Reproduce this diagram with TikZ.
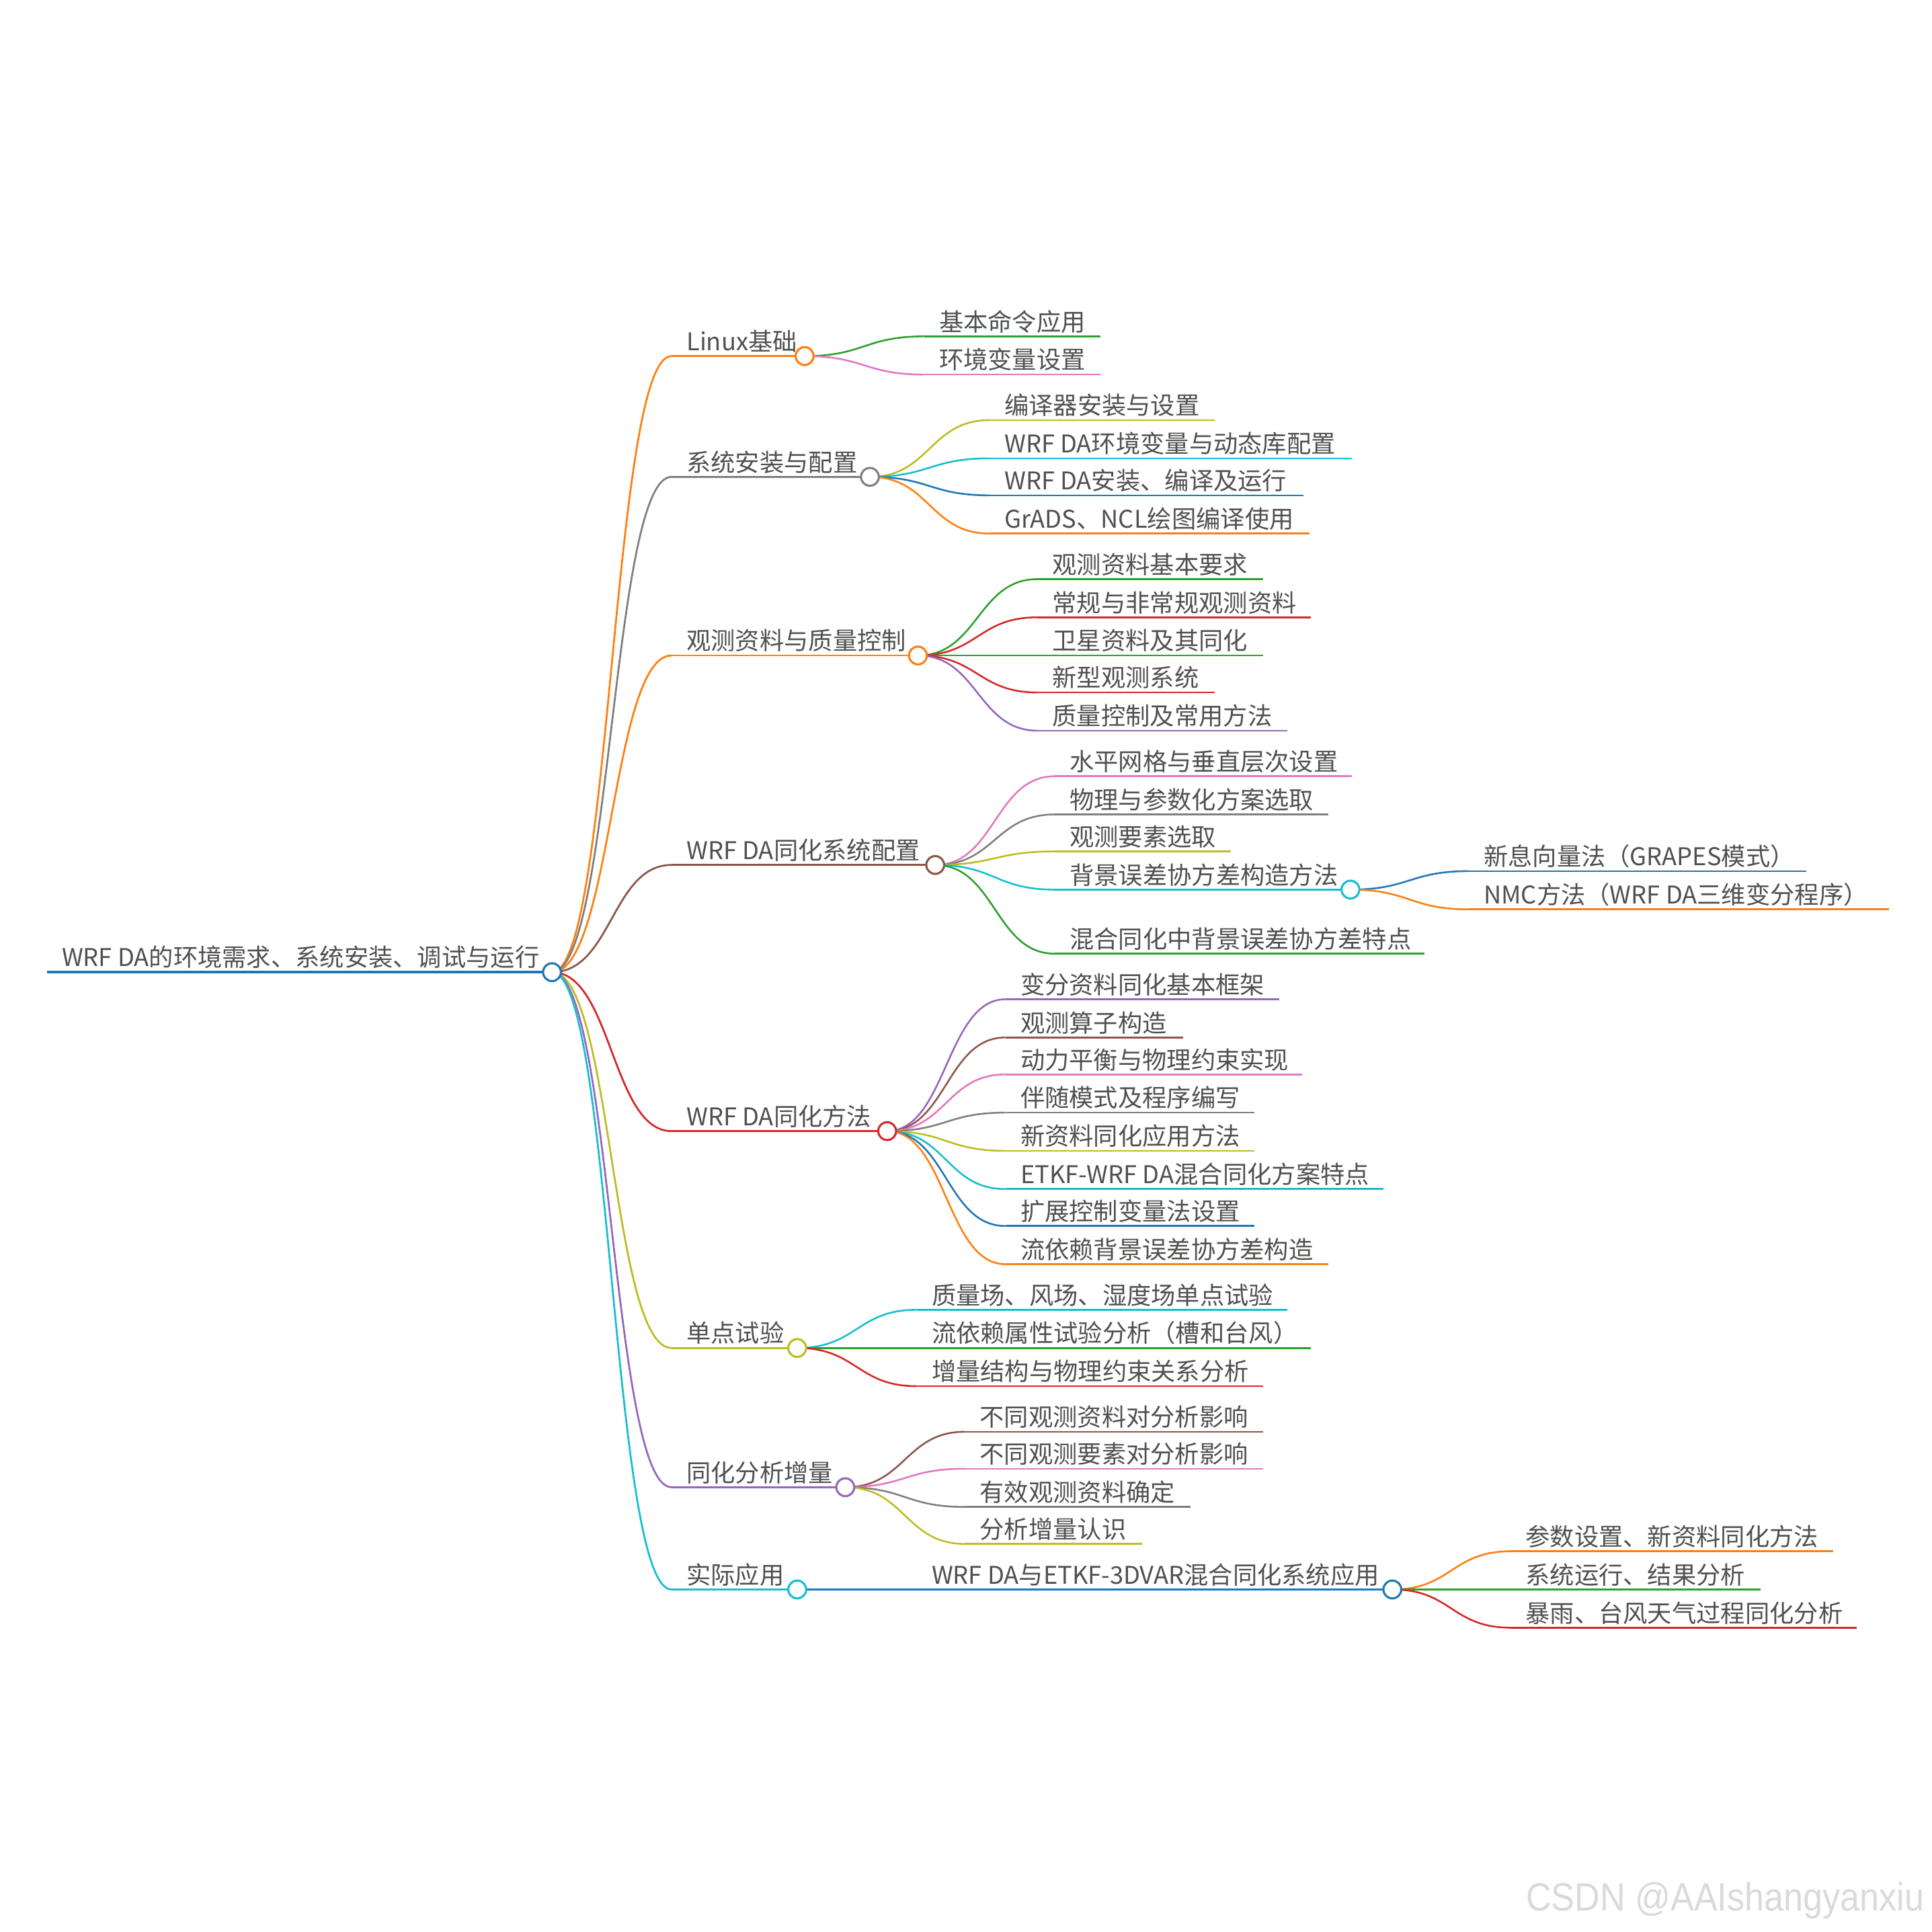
\documentclass[tikz,border=0pt]{standalone}
\usepackage{fontspec}
\setmainfont{Noto Sans CJK SC}
\newfontfamily\wmfont{Liberation Sans}[FakeStretch=0.89]
\usetikzlibrary{calc}
\definecolor{cblue}{HTML}{1F77B4}
\definecolor{corange}{HTML}{FF7F0E}
\definecolor{cgreen}{HTML}{2CA02C}
\definecolor{cred}{HTML}{D62728}
\definecolor{cpurple}{HTML}{9467BD}
\definecolor{cbrown}{HTML}{8C564B}
\definecolor{cpink}{HTML}{E377C2}
\definecolor{cgray}{HTML}{7F7F7F}
\definecolor{colive}{HTML}{BCBD22}
\definecolor{ccyan}{HTML}{17BECF}
\definecolor{txtgray}{HTML}{505050}
\definecolor{wmgray}{HTML}{DADADA}
\tikzset{
  txt/.style={font=\fontsize{19.8}{24}\selectfont, text=txtgray, inner sep=0pt, anchor=base west},
  dot/.style={circle, draw=#1, fill=white, line width=1.7pt, minimum size=14.5pt, inner sep=0pt},
  lwroot/.style={line width=2.3pt},
  lwa/.style={line width=1.5pt},
  lwb/.style={line width=1.4pt},
}
% name, text x, y, end x, colour, width style, text
\newcommand\mmbranch[7]{%
  \coordinate (#1-s) at ({#2-12},#3);
  \coordinate (#1) at (#4,#3);
  \draw[#5, #6] (#1-s) -- (#1);
  \node[txt] (#1-t) at (#2,{#3-4.5}) {#7};
}
% parent, child, colour, width style
\newcommand\mmlink[4]{%
  \draw[#3, #4] let \p1=(#1), \p2=(#2-s) in
    (\p1) .. controls ({0.5*\x1+0.5*\x2},\y1) and ({0.5*\x1+0.5*\x2},\y2) .. (\p2);
}
\begin{document}
\begin{tikzpicture}[x=1pt,y=-1pt]
\fill[white] (0,0) rectangle (1568,1568);
\useasboundingbox (0,0) rectangle (1568,1568);

% root
\mmbranch{root}{50}{789}{448}{cblue}{lwroot}{WRF DA的环境需求、系统安装、调试与运行}

% level 1
\mmbranch{A}{557}{289}{653}{corange}{lwa}{Linux基础}
\mmbranch{B}{557}{387}{706}{cgray}{lwa}{系统安装与配置}
\mmbranch{C}{557}{532}{745}{corange}{lwa}{观测资料与质量控制}
\mmbranch{D}{557}{702}{759}{cbrown}{lwa}{WRF DA同化系统配置}
\mmbranch{E}{557}{918}{720}{cred}{lwa}{WRF DA同化方法}
\mmbranch{F}{557}{1094}{647}{colive}{lwa}{单点试验}
\mmbranch{G}{557}{1207}{686}{cpurple}{lwa}{同化分析增量}
\mmbranch{H}{557}{1290}{647}{ccyan}{lwa}{实际应用}
\mmlink{root}{A}{corange}{lwa}
\mmlink{root}{B}{cgray}{lwa}
\mmlink{root}{C}{corange}{lwa}
\mmlink{root}{D}{cbrown}{lwa}
\mmlink{root}{E}{cred}{lwa}
\mmlink{root}{F}{colive}{lwa}
\mmlink{root}{G}{cpurple}{lwa}
\mmlink{root}{H}{ccyan}{lwa}

% Linux
\mmbranch{A1}{762}{273}{893}{cgreen}{lwb}{基本命令应用}
\mmbranch{A2}{762}{304}{893}{cpink}{lwb}{环境变量设置}
\mmlink{A}{A1}{cgreen}{lwb}
\mmlink{A}{A2}{cpink}{lwb}

% install
\mmbranch{B1}{815}{341}{986}{colive}{lwb}{编译器安装与设置}
\mmbranch{B2}{815}{372}{1097}{ccyan}{lwb}{WRF DA环境变量与动态库配置}
\mmbranch{B3}{815}{402}{1058}{cblue}{lwb}{WRF DA安装、编译及运行}
\mmbranch{B4}{815}{433}{1063}{corange}{lwb}{GrADS、NCL绘图编译使用}
\mmlink{B}{B1}{colive}{lwb}
\mmlink{B}{B2}{ccyan}{lwb}
\mmlink{B}{B3}{cblue}{lwb}
\mmlink{B}{B4}{corange}{lwb}

% observations
\mmbranch{C1}{854}{470}{1025}{cgreen}{lwb}{观测资料基本要求}
\mmbranch{C2}{854}{501}{1064}{cred}{lwb}{常规与非常规观测资料}
\mmbranch{C3}{854}{532}{1025}{cgreen}{lwb}{卫星资料及其同化}
\mmbranch{C4}{854}{562}{986}{cred}{lwb}{新型观测系统}
\mmbranch{C5}{854}{593}{1045}{cpurple}{lwb}{质量控制及常用方法}
\mmlink{C}{C1}{cgreen}{lwb}
\mmlink{C}{C2}{cred}{lwb}
\mmlink{C}{C3}{cgreen}{lwb}
\mmlink{C}{C4}{cred}{lwb}
\mmlink{C}{C5}{cpurple}{lwb}

% system configuration
\mmbranch{D1}{868}{630}{1097}{cpink}{lwb}{水平网格与垂直层次设置}
\mmbranch{D2}{868}{661}{1078}{cgray}{lwb}{物理与参数化方案选取}
\mmbranch{D3}{868}{691}{999}{colive}{lwb}{观测要素选取}
\mmbranch{D4}{868}{722}{1096}{ccyan}{lwb}{背景误差协方差构造方法}
\mmbranch{D5}{868}{774}{1156}{cgreen}{lwb}{混合同化中背景误差协方差特点}
\mmlink{D}{D1}{cpink}{lwb}
\mmlink{D}{D2}{cgray}{lwb}
\mmlink{D}{D3}{colive}{lwb}
\mmlink{D}{D4}{ccyan}{lwb}
\mmlink{D}{D5}{cgreen}{lwb}
\mmbranch{D4a}{1204}{707}{1466}{cblue}{lwb}{新息向量法（GRAPES模式）}
\mmbranch{D4b}{1204}{738}{1533}{corange}{lwb}{NMC方法（WRF DA三维变分程序）}
\mmlink{D4}{D4a}{cblue}{lwb}
\mmlink{D4}{D4b}{corange}{lwb}

% methods
\mmbranch{E1}{828}{811}{1038}{cpurple}{lwb}{变分资料同化基本框架}
\mmbranch{E2}{828}{842}{960}{cbrown}{lwb}{观测算子构造}
\mmbranch{E3}{828}{872}{1057}{cpink}{lwb}{动力平衡与物理约束实现}
\mmbranch{E4}{828}{903}{1018}{cgray}{lwb}{伴随模式及程序编写}
\mmbranch{E5}{828}{934}{1018}{colive}{lwb}{新资料同化应用方法}
\mmbranch{E6}{828}{965}{1123}{ccyan}{lwb}{ETKF-WRF DA混合同化方案特点}
\mmbranch{E7}{828}{995}{1018}{cblue}{lwb}{扩展控制变量法设置}
\mmbranch{E8}{828}{1026}{1078}{corange}{lwb}{流依赖背景误差协方差构造}
\mmlink{E}{E1}{cpurple}{lwb}
\mmlink{E}{E2}{cbrown}{lwb}
\mmlink{E}{E3}{cpink}{lwb}
\mmlink{E}{E4}{cgray}{lwb}
\mmlink{E}{E5}{colive}{lwb}
\mmlink{E}{E6}{ccyan}{lwb}
\mmlink{E}{E7}{cblue}{lwb}
\mmlink{E}{E8}{corange}{lwb}

% single point tests
\mmbranch{F1}{756}{1063}{1045}{ccyan}{lwb}{质量场、风场、湿度场单点试验}
\mmbranch{F2}{756}{1094}{1064}{cgreen}{lwb}{流依赖属性试验分析（槽和台风）}
\mmbranch{F3}{756}{1125}{1025}{cred}{lwb}{增量结构与物理约束关系分析}
\mmlink{F}{F1}{ccyan}{lwb}
\mmlink{F}{F2}{cgreen}{lwb}
\mmlink{F}{F3}{cred}{lwb}

% increments
\mmbranch{G1}{795}{1162}{1025}{cbrown}{lwb}{不同观测资料对分析影响}
\mmbranch{G2}{795}{1192}{1025}{cpink}{lwb}{不同观测要素对分析影响}
\mmbranch{G3}{795}{1223}{966}{cgray}{lwb}{有效观测资料确定}
\mmbranch{G4}{795}{1253}{927}{colive}{lwb}{分析增量认识}
\mmlink{G}{G1}{cbrown}{lwb}
\mmlink{G}{G2}{cpink}{lwb}
\mmlink{G}{G3}{cgray}{lwb}
\mmlink{G}{G4}{colive}{lwb}

% application
\mmbranch{H1}{756}{1290}{1130}{cblue}{lwb}{WRF DA与ETKF-3DVAR混合同化系统应用}
\mmlink{H}{H1}{cblue}{lwb}
\mmbranch{H1a}{1238}{1259}{1488}{corange}{lwb}{参数设置、新资料同化方法}
\mmbranch{H1b}{1238}{1290}{1429}{cgreen}{lwb}{系统运行、结果分析}
\mmbranch{H1c}{1238}{1321}{1507}{cred}{lwb}{暴雨、台风天气过程同化分析}
\mmlink{H1}{H1a}{corange}{lwb}
\mmlink{H1}{H1b}{cgreen}{lwb}
\mmlink{H1}{H1c}{cred}{lwb}

% circles
\node[dot=cblue] (root-c) at (root) {};
\node[dot=corange] (A-c) at (A) {};
\node[dot=cgray] (B-c) at (B) {};
\node[dot=corange] (C-c) at (C) {};
\node[dot=cbrown] (D-c) at (D) {};
\node[dot=cred] (E-c) at (E) {};
\node[dot=colive] (F-c) at (F) {};
\node[dot=cpurple] (G-c) at (G) {};
\node[dot=ccyan] (H-c) at (H) {};
\node[dot=ccyan] (D4-c) at (D4) {};
\node[dot=cblue] (H1-c) at (H1) {};

% watermark
\node[font=\wmfont\fontsize{32}{38}\selectfont, text=wmgray, inner sep=0pt, anchor=base east] (wm) at (1562,1551) {CSDN @AAIshangyanxiu};
\end{tikzpicture}
\end{document}
